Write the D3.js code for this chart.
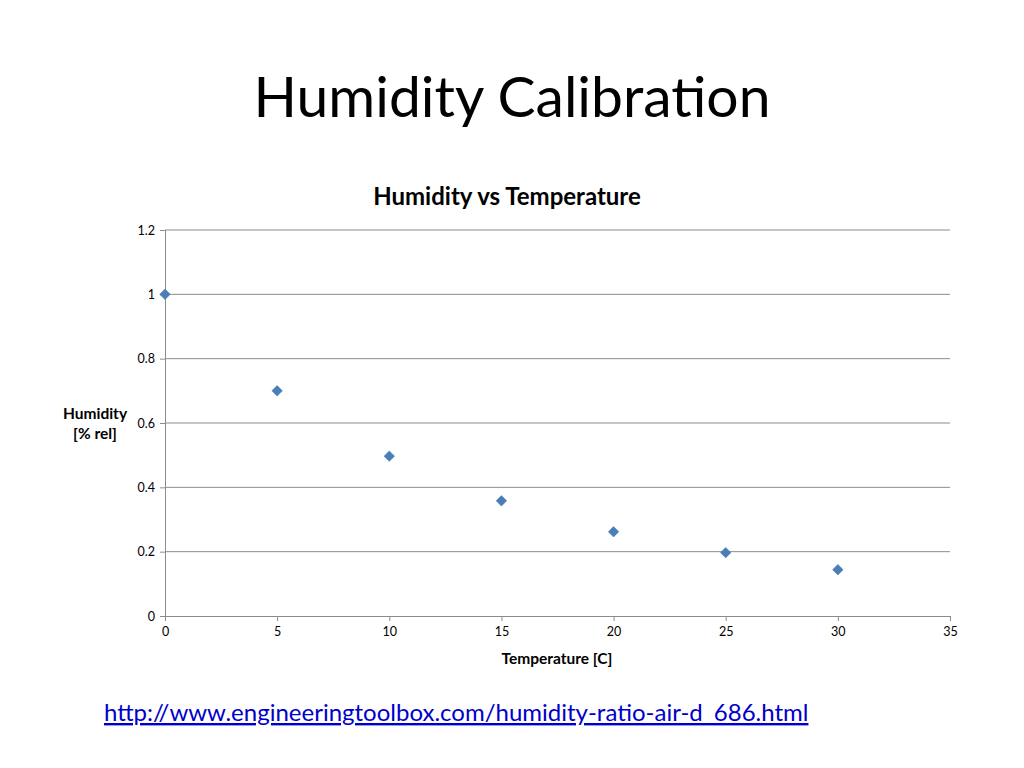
<!DOCTYPE html>
<html>
<head>
<meta charset="utf-8">
<script src="https://cdn.jsdelivr.net/npm/d3@7"></script>
<style>
  body { margin: 0; background: #fff; }
  svg { font-family: Lato, "Open Sans", sans-serif; }
</style>
</head>
<body>
<div id="chart"></div>
<script>
// data
const temps = [0, 5, 10, 15, 20, 25, 30];
const humidity = [1.0, 0.70, 0.497, 0.358, 0.262, 0.197, 0.144];
const xTicks = [0, 5, 10, 15, 20, 25, 30, 35];
const yTicks = [0, 0.2, 0.4, 0.6, 0.8, 1, 1.2];

const width = 1024, height = 768;
const svg = d3.select("#chart").append("svg")
    .attr("width", width)
    .attr("height", height);

// slide title
svg.append("text")
    .attr("x", 512).attr("y", 117)
    .attr("text-anchor", "middle")
    .style("font-size", "57px")
    .attr("fill", "#000")
    .text("Humidity Calibration");

// chart title
svg.append("text")
    .attr("x", 507).attr("y", 205)
    .attr("text-anchor", "middle")
    .style("font-size", "24px")
    .style("font-weight", "bold")
    .text("Humidity vs Temperature");

const x = d3.scaleLinear().domain([0, 35]).range([165, 950]);
const y = d3.scaleLinear().domain([0, 1.2]).range([616, 230]);

// gridlines
svg.append("g")
  .selectAll("line")
  .data(yTicks.filter(d => d > 0))
  .enter().append("line")
  .attr("x1", x(0)).attr("x2", x(35))
  .attr("y1", d => y(d)).attr("y2", d => y(d))
  .attr("stroke", "#8c8c8c")
  .attr("stroke-width", 1);

// y axis
const yAxis = svg.append("g")
    .attr("transform", `translate(${x(0)},0)`)
    .call(d3.axisLeft(y).tickValues(yTicks).tickSize(5).tickFormat(d3.format("")));
// x axis
const xAxis = svg.append("g")
    .attr("transform", `translate(0,${y(0)})`)
    .call(d3.axisBottom(x).tickValues(xTicks).tickSize(5).tickFormat(d3.format("")));

[yAxis, xAxis].forEach(g => {
  g.select(".domain").attr("stroke", "#8c8c8c");
  g.selectAll(".tick line").attr("stroke", "#8c8c8c");
  g.selectAll(".tick text")
    .style("font-family", "Lato, 'Open Sans', sans-serif")
    .style("font-size", "12.5px")
    .attr("fill", "#000");
});
yAxis.selectAll(".tick text").attr("x", -10);
xAxis.selectAll(".tick text").attr("y", 11);

// axis titles
svg.append("text")
    .attr("x", 557).attr("y", 664)
    .attr("text-anchor", "middle")
    .style("font-size", "15.5px")
    .style("font-weight", "bold")
    .text("Temperature [C]");

const yTitle = svg.append("text")
    .attr("text-anchor", "middle")
    .style("font-size", "15.5px")
    .style("font-weight", "bold");
yTitle.append("tspan").attr("x", 95).attr("y", 419).text("Humidity");
yTitle.append("tspan").attr("x", 95).attr("y", 439).text("[% rel]");

// markers
svg.append("g")
  .selectAll("path")
  .data(temps.map((t, i) => [t, humidity[i]]))
  .enter().append("path")
  .attr("d", d3.symbol().type(d3.symbolDiamond2).size(70))
  .attr("transform", d => `translate(${x(d[0])},${y(d[1])})`)
  .attr("fill", "#4a7ebb")
  .attr("stroke", "#3f6fa8")
  .attr("stroke-width", 0.5);

// source link
svg.append("text")
    .attr("x", 104).attr("y", 721)
    .style("font-size", "24px")
    .attr("fill", "#0000cc")
    .style("text-decoration", "underline")
    .text("http://www.engineeringtoolbox.com/humidity-ratio-air-d_686.html");
</script>
</body>
</html>
